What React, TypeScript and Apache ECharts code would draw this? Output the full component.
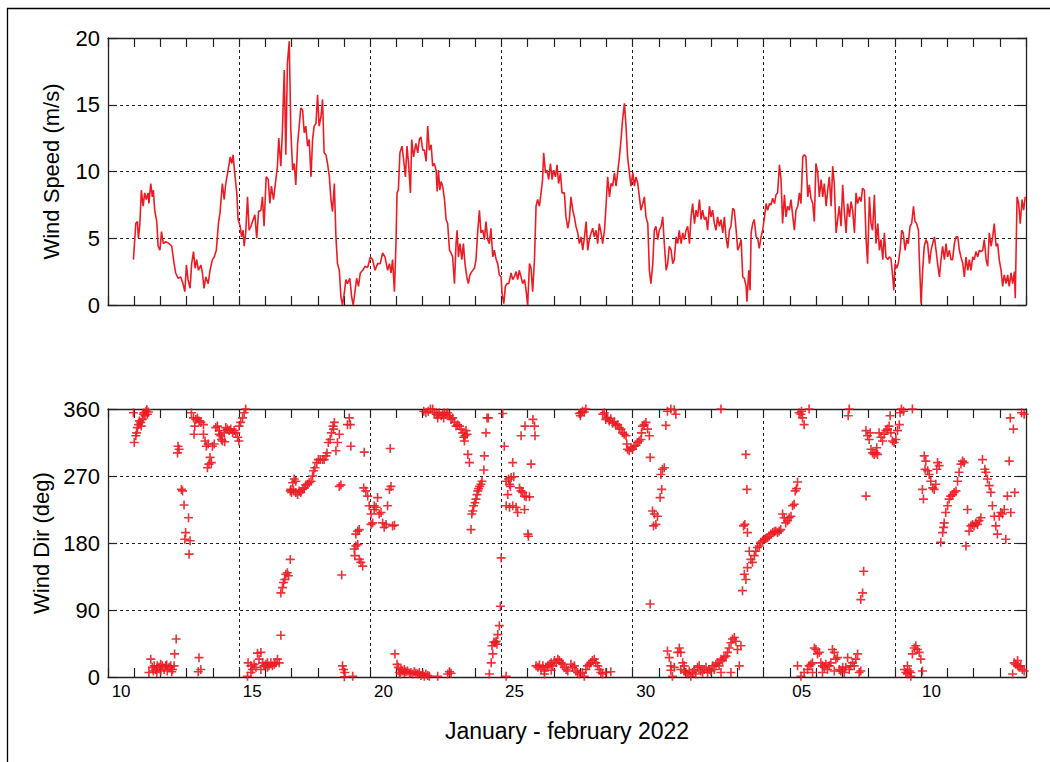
import React, { useEffect, useRef } from "react";
import * as echarts from "echarts";

// x = days since 10 January 2022, 00:00
const xLabelPos = [0.5, 5.5, 10.5, 15.5, 20.5, 26.45, 31.4];
const xLabelText = ["10", "15", "20", "25", "30", "05", "10"];
const speedTicks = [0, 5, 10, 15, 20];
const dirTicks = [0, 90, 180, 270, 360];

const windSpeed: [number, number][] = [
  [0.97,3.4],[1.06,6.1],[1.12,6.25],[1.16,5.0],[1.21,5.9],[1.25,7.6],[1.27,8.6],[1.34,7.4],[1.40,8.4],[1.46,7.9],[1.53,8.4],[1.56,7.6],[1.63,9.1],[1.69,8.1],[1.73,8.6],[1.78,7.1],[1.86,6.25],[1.91,4.4],[1.98,4.1],[2.04,5.5],[2.11,4.6],[2.20,4.75],[2.33,4.6],[2.43,4.4],[2.52,3.1],[2.58,2.4],[2.67,2.0],[2.77,2.1],[2.86,1.6],[2.93,1.0],[2.99,3.0],[3.05,1.9],[3.13,1.25],[3.19,3.1],[3.26,4.0],[3.32,2.75],[3.38,3.4],[3.45,2.6],[3.54,3.0],[3.60,2.4],[3.66,1.25],[3.73,2.1],[3.82,1.6],[3.89,2.6],[3.98,3.4],[4.05,3.6],[4.13,4.1],[4.21,6.1],[4.27,6.9],[4.36,9.1],[4.43,7.9],[4.49,9.1],[4.58,10.1],[4.66,11.1],[4.72,10.6],[4.77,11.25],[4.83,9.9],[4.91,8.4],[4.96,6.4],[5.04,5.9],[5.09,5.1],[5.15,5.6],[5.19,4.4],[5.25,5.4],[5.32,8.1],[5.38,5.6],[5.45,5.9],[5.51,6.25],[5.60,6.75],[5.67,5.0],[5.74,7.0],[5.83,7.1],[5.89,8.1],[5.95,5.9],[6.03,9.6],[6.11,9.4],[6.17,7.6],[6.23,8.9],[6.31,7.9],[6.40,9.4],[6.46,10.4],[6.51,12.5],[6.59,10.4],[6.65,13.1],[6.72,17.6],[6.78,11.25],[6.84,18.1],[6.91,19.75],[6.97,13.1],[7.04,10.1],[7.10,10.6],[7.16,9.0],[7.23,12.1],[7.29,13.4],[7.35,14.75],[7.42,14.6],[7.48,12.9],[7.54,13.4],[7.61,11.9],[7.67,12.4],[7.74,9.6],[7.80,12.4],[7.86,13.4],[7.93,13.6],[7.99,15.75],[8.05,13.4],[8.12,14.1],[8.18,15.4],[8.24,11.4],[8.31,11.25],[8.37,10.6],[8.44,9.6],[8.50,7.9],[8.56,7.0],[8.63,9.1],[8.69,5.1],[8.75,3.1],[8.82,2.6],[8.88,0.6],[8.94,0],[9.01,0.9],[9.07,1.9],[9.13,1.6],[9.22,2.0],[9.29,0.6],[9.35,0],[9.41,0.9],[9.48,2.0],[9.55,1.4],[9.62,2.4],[9.71,2.6],[9.80,2.9],[9.90,2.8],[10.00,3.6],[10.09,3.4],[10.18,2.6],[10.28,3.1],[10.38,3.1],[10.47,3.9],[10.56,3.6],[10.66,2.6],[10.73,3.1],[10.79,2.4],[10.85,3.4],[10.92,1.0],[10.98,4.6],[11.02,8.4],[11.07,8.6],[11.13,11.4],[11.21,11.9],[11.27,10.9],[11.34,9.6],[11.40,11.9],[11.46,10.6],[11.53,8.4],[11.58,12.4],[11.65,11.1],[11.74,12.1],[11.81,11.4],[11.87,12.4],[11.93,12.6],[12.00,11.6],
  [12.06,11.6],[12.13,10.75],[12.19,13.4],[12.25,11.6],[12.32,12.0],[12.38,10.4],[12.44,10.6],[12.51,10.1],[12.55,8.5],[12.60,10.1],[12.65,8.6],[12.70,9.25],[12.76,8.9],[12.83,7.9],[12.89,6.4],[12.95,6.1],[13.02,4.1],[13.08,3.9],[13.14,3.6],[13.21,1.6],[13.27,4.6],[13.31,5.6],[13.36,3.6],[13.42,4.6],[13.49,3.4],[13.55,4.6],[13.61,3.1],[13.68,2.1],[13.74,1.6],[13.80,2.25],[13.87,2.5],[13.97,2.75],[14.03,3.4],[14.10,5.6],[14.16,7.1],[14.22,5.4],[14.29,5.6],[14.35,4.9],[14.41,6.25],[14.48,4.9],[14.54,4.6],[14.60,5.75],[14.67,3.6],[14.73,4.1],[14.80,3.4],[14.86,3.1],[14.92,2.25],[14.99,2.1],[15.02,0.9],[15.09,0.1],[15.15,1.4],[15.21,1.6],[15.28,1.6],[15.37,2.4],[15.43,1.9],[15.49,2.1],[15.56,2.5],[15.62,1.9],[15.68,2.6],[15.75,2.1],[15.81,1.6],[15.88,1.9],[15.94,1.1],[16.00,0],[16.07,3.1],[16.13,2.75],[16.19,1.0],[16.26,3.4],[16.32,7.4],[16.38,7.9],[16.45,7.4],[16.51,8.4],[16.57,9.4],[16.61,11.4],[16.68,9.9],[16.74,10.1],[16.80,9.4],[16.87,10.6],[16.93,9.4],[16.99,10.1],[17.06,9.6],[17.12,10.5],[17.18,9.1],[17.25,9.9],[17.31,8.4],[17.40,8.4],[17.46,6.6],[17.53,5.75],[17.59,6.4],[17.65,8.1],[17.72,7.1],[17.78,6.6],[17.84,5.9],[17.91,5.4],[17.97,4.6],[18.04,5.1],[18.10,4.1],[18.16,5.0],[18.23,6.25],[18.29,4.1],[18.35,4.9],[18.42,5.4],[18.48,5.75],[18.54,5.1],[18.61,5.6],[18.67,4.6],[18.73,6.1],[18.80,5.4],[18.86,4.6],[18.93,5.6],[18.99,7.5],[19.05,9.6],[19.12,8.1],[19.18,9.1],[19.24,8.9],[19.31,9.9],[19.37,8.9],[19.43,9.9],[19.50,11.1],[19.56,12.4],[19.62,13.9],[19.69,15.1],[19.75,13.4],[19.81,11.1],[19.88,9.9],[19.94,8.9],[20.01,9.9],[20.07,8.9],[20.13,9.6],[20.20,9.1],[20.26,8.1],[20.32,7.1],[20.39,7.6],[20.45,8.1],[20.51,6.6],[20.58,6.1],[20.64,2.6],[20.70,1.6],[20.77,3.1],[20.83,5.6],[20.89,5.9],[20.96,4.9],[21.02,5.6],[21.09,5.9],[21.15,6.6],[21.21,4.6],[21.28,2.6],[21.34,3.1],[21.40,4.4],[21.47,4.1],[21.53,3.1],[21.59,3.4],[21.66,5.1],[21.72,4.6],[21.78,5.6],[21.85,4.6],[21.91,5.4],[21.97,4.9],[22.04,5.6],[22.10,5.9],[22.17,4.6],[22.23,6.6],[22.29,7.6],[22.36,6.1],[22.42,7.1],[22.48,6.6],[22.55,7.9],[22.61,6.4],[22.67,7.1],[22.74,6.4],[22.80,6.6],[22.86,5.6],[22.93,7.4],[22.99,6.6],[23.05,7.1],[23.12,6.1],[23.18,5.6],[23.24,6.6],[23.31,5.9],[23.37,6.4],[23.44,5.4],[23.50,6.6],[23.56,5.1],[23.63,4.25],[23.69,5.6],[23.75,5.9],[23.82,7.25],
  [23.88,7.1],[23.95,5.6],[24.01,4.1],[24.07,4.4],[24.14,4.9],[24.20,2.1],[24.26,2.0],[24.33,1.4],[24.36,0.25],[24.43,2.6],[24.48,1.1],[24.52,5.4],[24.58,6.1],[24.64,6.4],[24.71,5.1],[24.77,5.0],[24.83,4.25],[24.90,5.1],[24.96,5.6],[25.03,6.6],[25.09,7.6],[25.15,7.1],[25.22,7.6],[25.28,7.5],[25.34,8.0],[25.41,7.6],[25.47,8.25],[25.53,8.4],[25.60,10.5],[25.66,9.4],[25.72,6.1],[25.79,8.25],[25.85,6.6],[25.91,7.4],[25.98,7.1],[26.04,7.9],[26.11,6.6],[26.17,5.6],[26.23,7.1],[26.30,7.4],[26.36,8.4],[26.42,7.6],[26.49,11.1],[26.55,11.25],[26.61,11.1],[26.68,8.1],[26.74,9.0],[26.80,8.0],[26.87,7.6],[26.93,6.25],[26.99,10.6],[27.06,9.9],[27.12,8.1],[27.19,9.4],[27.25,8.1],[27.31,9.1],[27.38,7.4],[27.44,8.6],[27.50,9.6],[27.57,7.4],[27.63,10.4],[27.69,9.1],[27.76,5.4],[27.82,6.4],[27.88,7.4],[27.95,5.9],[28.01,9.0],[28.07,7.1],[28.14,5.4],[28.20,7.6],[28.27,6.6],[28.33,7.75],[28.39,7.1],[28.46,5.4],[28.52,8.4],[28.58,7.6],[28.65,8.1],[28.71,7.75],[28.77,8.75],[28.84,8.6],[28.90,5.1],[28.96,3.1],[29.03,8.1],[29.09,6.1],[29.15,5.6],[29.22,8.25],[29.28,4.6],[29.35,6.1],[29.41,4.1],[29.47,4.9],[29.54,3.4],[29.60,5.4],[29.66,3.6],[29.73,3.4],[29.79,3.6],[29.85,3.5],[29.92,2.1],[29.96,1.1],[30.01,3.1],[30.07,2.75],[30.13,3.1],[30.20,4.1],[30.26,5.6],[30.32,5.4],[30.39,4.1],[30.45,4.9],[30.51,4.6],[30.58,5.9],[30.64,6.1],[30.71,7.4],[30.77,6.25],[30.83,6.1],[30.90,5.6],[30.93,3.6],[31.00,0.1],[31.06,2.6],[31.12,4.4],[31.19,4.9],[31.25,4.6],[31.32,3.1],[31.38,4.1],[31.44,4.6],[31.51,5.1],[31.57,4.1],[31.63,3.1],[31.70,2.1],[31.76,3.4],[31.82,4.4],[31.89,3.4],[31.95,4.6],[32.01,3.6],[32.08,4.1],[32.14,3.4],[32.20,3.4],[32.27,4.6],[32.33,5.1],[32.40,5.1],[32.46,4.1],[32.52,3.6],[32.59,3.1],[32.65,2.1],[32.71,3.6],[32.78,2.6],[32.84,3.4],[32.90,2.6],[32.97,3.6],[33.03,3.4],[33.09,4.0],[33.16,3.6],[33.22,4.1],[33.28,4.0],[33.35,4.1],[33.41,4.9],[33.48,3.4],[33.54,2.9],[33.60,5.4],[33.67,4.4],[33.73,5.1],[33.79,6.1],[33.86,4.4],[33.92,4.6],[33.98,3.4],[34.05,2.6],[34.11,1.4],[34.17,2.25],[34.24,1.6],[34.30,2.25],[34.36,1.4],[34.43,2.4],[34.49,1.6],[34.56,2.5],[34.59,0.5],[34.66,8.1],[34.72,7.6],[34.78,6.1],[34.85,7.9],[34.91,7.1],[34.97,8.1]
];

const windDir: [number, number][] = [
  [0.97,355],[1.00,315],[1.06,324],[1.09,328],[1.12,335],[1.16,339],[1.20,344],[1.25,342],[1.27,337],[1.31,346],[1.35,353],[1.37,355],[1.41,351],[1.45,357],[1.50,353],[1.54,356],[1.48,359],
  [2.67,310],[2.71,306],[2.65,301],[2.80,252],[2.84,250],[2.90,231],[3.07,214],[2.96,194],[2.93,185],[3.13,183],[3.09,165],
  [3.18,355],[3.26,348],[3.31,337],[3.35,346],[3.41,348],[3.47,344],[3.54,342],[3.64,339],[3.28,326],[3.64,326],[3.70,317],[3.75,310],[3.82,313],[3.89,295],[3.94,288],[3.79,281],[3.85,286],[3.98,310],[4.05,313],[4.11,335],[4.17,337],[4.24,331],[4.30,324],[4.36,317],[4.43,328],[4.49,335],[4.55,333],[4.62,331],[4.68,333],[4.75,328],[4.81,331],[4.87,328],[4.94,322],[5.00,337],[5.06,342],[5.13,348],[5.19,355],[5.25,360],[4.24,326],[4.33,319],[4.45,316],[4.99,317],
  [1.63,24],[1.56,6],[1.69,13],[1.76,15],[1.82,10],[1.88,15],[1.95,13],[2.01,8],[2.07,15],[2.14,10],[2.20,15],[2.26,8],[2.33,13],[2.39,15],[2.46,10],[2.52,15],[1.73,8],[1.86,6],[2.01,17],[2.24,16],[2.43,7],[2.54,31],[2.60,51],[3.47,26],[3.54,10],[3.44,7],
  [5.32,1],[5.34,19],[5.45,15],[5.51,10],[5.57,17],[5.64,13],[5.70,32],[5.76,24],[5.83,33],[5.89,19],[5.95,15],[6.02,17],[6.08,13],[6.14,15],[6.21,19],[6.27,15],[6.34,17],[6.40,19],[6.46,24],[6.53,19],[6.59,56],[5.45,6],[5.83,10],[6.08,19],
  [6.59,113],[6.65,120],[6.69,127],[6.74,131],[6.78,138],[6.84,140],[6.88,136],[6.95,158],
  [6.97,252],[7.04,261],[7.10,266],[7.16,263],[6.95,250],[7.00,248],[7.07,251],[7.16,248],[7.23,245],[7.29,250],[7.35,248],[7.42,252],[7.48,254],[7.54,258],[7.61,259],[7.67,261],[7.74,263],[7.80,270],[7.84,277],[7.89,281],[7.96,288],[8.02,292],[8.09,292],[8.18,292],[8.24,292],[8.31,297],[8.35,301],[8.40,315],[8.47,319],[8.52,328],[8.58,337],[8.63,342],[8.60,333],[8.69,304],[8.82,326],[8.75,315],[9.20,348],[9.24,339],[9.13,339],[9.26,310],[9.77,302],[8.88,258],[8.82,256],
  [8.91,137],[9.45,192],[9.52,196],[9.58,198],[9.39,172],[9.45,176],[9.52,178],[9.41,163],[9.58,158],[9.64,154],[9.71,149],[9.75,254],[9.83,250],[9.90,243],[9.96,230],[10.03,219],[10.09,207],[10.15,230],[10.22,228],[10.28,241],[10.34,219],[10.41,221],[10.47,207],[10.53,201],[10.60,205],[10.66,230],[10.73,252],[10.79,256],[10.85,203],[10.92,204],[10.03,205],[10.15,225],[10.76,307],
  [8.94,15],[8.98,10],[9.03,6],[9.01,0.4],[9.33,1],
  [10.94,31],[11.02,17],[11.07,13],[11.11,6],[11.17,10],[11.23,8],[11.30,6],[11.36,7],[11.42,8],[11.49,5],[11.55,6],[11.62,4],[11.68,7],[11.74,5],[11.81,4],[11.87,6],[11.93,2],[12.00,4],[12.06,1],[12.12,4],[12.19,2],[12.25,1],[12.57,1],[12.95,4],[13.02,7],[13.08,5],[11.15,4],[11.30,10],
  [12.04,357],[12.12,355],[12.21,357],[12.29,360],[12.38,360],[12.44,355],[12.51,353],[12.57,348],[12.63,355],[12.70,351],[12.76,353],[12.82,355],[12.89,353],[12.95,355],[13.02,351],[13.08,346],[13.14,348],[13.21,342],[13.27,337],[13.33,339],[13.40,337],[13.46,333],[13.52,328],[13.56,322],[13.61,324],[13.65,331],[13.69,326],[13.59,317],[13.72,299],[13.78,288],[12.57,352],[12.80,348],
  [13.84,198],[13.87,219],[13.91,223],[13.94,230],[13.99,234],[14.03,239],[14.07,245],[14.10,250],[14.13,253],[14.17,256],[14.22,259],[14.26,263],[14.33,278],[14.35,297],[14.41,328],[14.45,348],[14.50,348],
  [14.54,4],[14.61,19],[14.67,31],[14.64,42],[14.71,47],[14.76,46],[14.80,48],[14.83,44],[14.86,57],[14.92,69],[14.96,95],[14.99,160],[15.05,354],[15.11,310],[15.18,1],
  [15.18,263],[15.27,266],[15.37,268],[15.47,269],[15.31,259],[15.34,256],[15.24,245],[15.43,288],[15.18,230],[15.31,228],[15.43,230],[15.56,228],[15.62,221],[15.69,254],[15.75,250],[15.81,248],[15.88,243],[15.94,242],[16.07,242],[16.01,192],[16.03,189],[15.88,225],[15.75,324],[15.90,337],[16.13,286],[16.20,346],[16.26,337],[16.28,324],
  [16.32,15],[16.39,13],[16.45,16],[16.51,10],[16.58,15],[16.64,8],[16.70,13],[16.77,15],[16.83,17],[16.90,19],[16.96,15],[17.02,22],[17.09,19],[17.15,24],[17.21,22],[17.28,19],[17.34,17],[17.40,13],[17.47,10],[17.53,8],[16.64,4],[16.90,9],
  [17.65,17],[17.71,13],[17.78,15],[17.84,8],[17.90,6],[17.97,4],[18.09,6],[18.16,1],[18.22,10],[18.28,15],[18.35,17],[18.41,19],[18.47,22],[18.54,24],[18.60,19],[18.67,15],[18.73,10],[18.79,6],[18.86,4],[18.98,6],[19.17,7],
  [17.97,354],[18.03,355],[18.09,357],[18.16,356],[18.22,360],[18.01,351],[18.86,353],[18.92,355],[18.98,346],[19.05,348],[19.11,344],[19.17,347],[19.24,341],[19.30,343],[19.36,338],[19.43,339],[19.49,335],[19.56,333],[19.62,328],[19.68,326],[19.75,324],[19.78,313],[19.81,306],[19.87,304],[19.94,308],[20.00,306],[20.06,310],[20.13,311],[20.19,315],[20.25,317],[20.32,319],[20.34,328],[20.38,337],[20.44,339],[20.51,342],[20.57,333],[20.64,324],[20.67,295],
  [21.08,272],[21.14,279],[21.21,281],[21.11,252],[21.05,241],[20.76,223],[20.83,219],[20.89,205],[20.95,216],[20.80,203],[20.67,98],[21.33,357],[21.46,360],[21.59,359],[21.65,353],[21.27,338],
  [21.33,35],[21.40,26],[21.46,15],[21.52,1],[21.59,13],[21.72,33],[21.78,39],[21.84,33],[21.91,19],[21.97,8],[22.03,6],[22.10,4],[22.16,8],[22.22,1],[22.29,6],[22.35,10],[22.41,4],[22.48,13],[22.54,15],[22.60,8],[22.67,6],[22.73,10],[22.80,13],[22.86,6],[22.92,10],[22.99,8],[23.05,15],[23.11,10],[23.18,17],[23.24,19],[23.30,15],[23.37,24],[23.43,22],[23.49,26],[23.56,28],[23.62,33],[23.68,39],[23.75,46],[23.81,51],[23.88,53],[23.94,48],[24.00,37],[24.07,15],[24.13,42],[21.46,9],[21.97,15],[23.37,6],[23.75,6],[21.84,10],
  [23.37,360],
  [24.19,116],[24.26,138],[24.32,131],[24.38,147],[24.45,169],[24.51,158],[24.57,154],[24.64,163],[24.70,169],[24.76,174],[24.83,176],[24.89,181],[24.96,183],[25.02,185],[25.08,186],[25.15,187],[25.21,189],[25.27,192],[25.34,194],[25.40,195],[25.46,196],[25.53,194],[25.59,196],[25.65,198],[25.72,219],[25.78,214],[25.84,207],[25.91,210],[25.97,214],[26.04,216],[26.10,230],[26.16,232],[26.20,250],[26.25,253],[26.29,262],[24.32,299],[24.36,252],[24.28,205],[24.38,194],[24.23,203],
  [26.35,355],[26.42,353],[26.48,348],[26.54,339],[26.44,357],[26.73,360],
  [26.29,15],[26.42,1],[26.54,6],[26.67,10],[26.73,15],[26.80,17],[26.86,19],[26.93,39],[26.99,37],[27.05,31],[27.12,33],[27.18,19],[27.24,15],[27.31,13],[27.37,17],[27.43,10],[27.50,15],[27.56,19],[27.62,37],[27.69,33],[27.75,24],[27.81,26],[27.88,10],[27.94,8],[28.01,13],[28.07,6],[28.13,13],[28.20,26],[28.26,10],[28.32,15],[28.39,19],[28.45,15],[28.51,24],[28.58,31],[28.64,6],[28.70,8],[26.86,6],[27.24,6],[27.69,8],
  [28.26,360],[28.22,351],
  [28.70,104],[28.77,113],[28.81,142],[28.90,243],
  [28.90,331],[28.96,324],[29.02,319],[29.06,328],[29.09,306],[29.15,301],[29.21,299],[29.28,301],[29.34,299],[29.40,328],[29.47,322],[29.53,317],[29.59,326],[29.66,331],[29.72,333],[29.78,337],[29.85,328],[29.91,317],[29.97,315],[30.04,319],[30.10,331],[30.17,339],[30.20,355],[30.25,360],[30.33,357],[30.67,360],[29.82,351],[29.31,308],
  [30.36,10],[30.42,6],[30.48,4],[30.55,8],[30.61,6],[30.48,15],[30.74,39],[30.80,42],[30.86,37],[30.93,33],[30.99,24],[30.67,31],[31.05,8],[30.61,1],
  [31.12,297],[31.18,290],[31.15,279],[31.25,277],[31.31,272],[31.37,263],[31.44,254],[31.50,252],[31.56,259],[31.60,279],[31.63,288],[31.69,284],[31.05,252],[31.09,239],[31.75,181],[31.82,194],[31.86,201],[31.88,207],[31.94,221],[32.01,230],[32.07,239],[32.13,243],[32.20,245],[32.26,248],[32.33,250],[32.39,263],[32.45,275],[32.52,286],[32.58,290],[32.64,288],[32.77,225],[32.71,176],[32.83,196],[32.90,203],[32.96,205],[33.02,203],[33.09,207],[33.15,205],[33.21,210],[33.28,214],[33.34,292],[33.43,279],[33.47,275],[33.53,266],[33.60,257],[33.66,248],[33.72,230],[33.79,216],[33.85,203],[33.91,192],[33.98,216],[34.04,221],[34.10,219],[34.17,225],[34.23,185],[34.29,243],[34.36,290],[34.42,221],[34.57,248],
  [34.40,348],[34.52,333],[34.83,355],[34.93,353],
  [34.49,4],[34.55,19],[34.61,17],[34.68,15],[34.74,13],[34.80,15],[34.86,10],[34.93,8],[34.68,22]
];

const RED = "#ec1c24";
const INK = "#222";
const FONT = "'Liberation Sans', Arial, Helvetica, sans-serif";
const PLUS = "path://M4.1,0 H5.9 V4.1 H10 V5.9 H5.9 V10 H4.1 V5.9 H0 V4.1 H4.1 Z";

function xAxisFor(gridIndex: number, position: "top" | "bottom", labels: boolean, split: boolean, name?: string) {
  return {
    type: "value",
    gridIndex,
    position,
    min: 0,
    max: 35,
    interval: 5,
    name: name || "",
    nameLocation: "middle",
    nameGap: 42,
    nameTextStyle: { fontSize: 23, color: "#000", fontFamily: FONT },
    axisLine: { show: true, onZero: false, lineStyle: { color: INK, width: 1.3 } },
    axisTick: { show: true, inside: true, length: 9, lineStyle: { color: INK, width: 1.2 } },
    minorTick: { show: true, splitNumber: 5, length: 9, lineStyle: { color: INK, width: 1.2 } },
    splitLine: { show: split, lineStyle: { color: INK, type: [3, 3], width: 1 } },
    minorSplitLine: { show: false },
    axisLabel: labels
      ? {
          show: true,
          customValues: xLabelPos,
          margin: 6,
          fontSize: 17,
          color: "#000",
          fontFamily: FONT,
          formatter: (v: number) => {
            const i = xLabelPos.findIndex((p) => Math.abs(p - v) < 1e-6);
            return i >= 0 ? xLabelText[i] : "";
          },
        }
      : { show: false },
  };
}

function yAxisFor(gridIndex: number, position: "left" | "right", ticks: number[], labels: boolean, name?: string) {
  const step = ticks[1] - ticks[0];
  return {
    type: "value",
    gridIndex,
    position,
    min: ticks[0],
    max: ticks[ticks.length - 1],
    interval: step,
    name: name || "",
    nameLocation: "middle",
    nameGap: 46,
    nameTextStyle: { fontSize: 22, color: "#000", fontFamily: FONT },
    axisLine: { show: true, onZero: false, lineStyle: { color: INK, width: 1.3 } },
    axisTick: { show: true, inside: true, length: 9, lineStyle: { color: INK, width: 1.2 } },
    splitLine: { show: labels, lineStyle: { color: INK, type: [3, 3], width: 1 } },
    axisLabel: labels
      ? { show: true, margin: 8, fontSize: 22, color: "#000", fontFamily: FONT }
      : { show: false },
  };
}

export default function App() {
  const ref = useRef<HTMLDivElement>(null);
  useEffect(() => {
    document.body.style.margin = "0";
    if (!ref.current) return;
    const chart = echarts.init(ref.current, undefined, { renderer: "svg" });
    chart.setOption({
      animation: false,
      backgroundColor: "#fff",
      textStyle: { fontFamily: FONT },
      grid: [
        { left: 108, top: 38, width: 918, height: 267, containLabel: false },
        { left: 108, top: 409, width: 918, height: 268, containLabel: false },
      ],
      xAxis: [
        xAxisFor(0, "bottom", false, true),
        xAxisFor(0, "top", false, false),
        xAxisFor(1, "bottom", true, true, "January - february 2022"),
        xAxisFor(1, "top", false, false),
      ],
      yAxis: [
        yAxisFor(0, "left", speedTicks, true, "Wind Speed (m/s)"),
        yAxisFor(0, "right", speedTicks, false),
        yAxisFor(1, "left", dirTicks, true, "Wind Dir (deg)"),
        yAxisFor(1, "right", dirTicks, false),
      ],
      graphic: [
        {
          type: "rect",
          silent: true,
          shape: { x: 7.5, y: 8.5, width: 1200, height: 900 },
          style: { fill: "none", stroke: "#000", lineWidth: 1.3 },
        },
      ],
      series: [
        {
          type: "line",
          xAxisIndex: 0,
          yAxisIndex: 0,
          data: windSpeed,
          showSymbol: false,
          symbol: "none",
          lineStyle: { color: RED, width: 1.6 },
          z: 3,
        },
        {
          type: "scatter",
          xAxisIndex: 2,
          yAxisIndex: 2,
          data: windDir,
          symbol: PLUS,
          symbolSize: 9,
          clip: false,
          itemStyle: { color: RED, opacity: 0.9 },
          z: 3,
        },
      ],
    });
    return () => chart.dispose();
  }, []);
  return <div ref={ref} style={{ width: 1050, height: 762 }} />;
}
